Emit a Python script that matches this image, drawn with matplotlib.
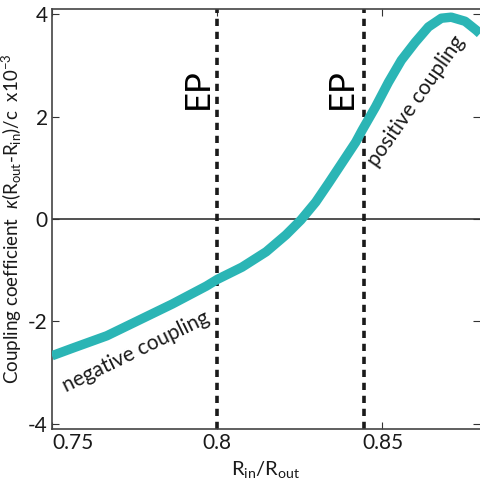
import numpy as np
import matplotlib
matplotlib.use("Agg")
import matplotlib.pyplot as plt

# --- datos ---
ratio = [0.7500, 0.7563, 0.7666, 0.7765, 0.7864, 0.7967, 0.8000, 0.8075,
         0.8148, 0.8208, 0.8253, 0.8298, 0.8337, 0.8377, 0.8419, 0.8439,
         0.8479, 0.8518, 0.8557, 0.8599, 0.8639, 0.8678, 0.8708, 0.8750,
         0.8783, 0.8795]
coupling = [-2.67, -2.52, -2.28, -1.97, -1.66, -1.31, -1.18, -0.94,
            -0.64, -0.31, -0.02, 0.33, 0.70, 1.09, 1.50, 1.74,
            2.19, 2.67, 3.10, 3.45, 3.75, 3.92, 3.94, 3.86,
            3.69, 3.62]
ep_positions = [0.800, 0.8443]
x_ticks = [0.75, 0.80, 0.85]
x_ticklabels = ["0.75", "0.8", "0.85"]
y_ticks = [-4, -2, 0, 2, 4]
y_ticklabels = ["-4", "-2", "0", "2", "4"]

plt.rcParams['font.family'] = ['Lato', 'DejaVu Sans']
plt.rcParams['mathtext.fontset'] = 'custom'
plt.rcParams['mathtext.rm'] = 'Lato'
plt.rcParams['mathtext.it'] = 'Lato:italic'

teal = '#2bb5b5'

fig = plt.figure(figsize=(4.8, 4.79), dpi=100)
ax = fig.add_axes([0.1083, 0.1044, 0.8917, 0.8768])

ax.plot(ratio, coupling, color=teal, lw=6.8, solid_capstyle='butt',
        solid_joinstyle='round', zorder=3)
ax.axhline(0, color='#222222', lw=1.1, zorder=1)
for xp in ep_positions:
    ax.axvline(xp, color='#1a1a1a', lw=2.6, dashes=(2.0, 1.6),
               dash_capstyle='butt', zorder=2)

# --- textos ---
ax.text(0.7941, 2.54, "EP", rotation=90, fontsize=25, ha='center', va='center')
ax.text(0.8378, 2.54, "EP", rotation=90, fontsize=25, ha='center', va='center')
ax.text(0.7755, -2.60, "negative coupling", rotation=26, fontsize=15,
        ha='center', va='center', rotation_mode='anchor', color='#1a1a1a')
ax.text(0.8603, 2.30, "positive coupling", rotation=55, fontsize=15,
        ha='center', va='center', rotation_mode='anchor', color='#1a1a1a')

ax.set_xlim(0.75, 0.8795)
ax.set_ylim(-4.1, 4.1)
ax.set_xticks(x_ticks)
ax.set_xticklabels(x_ticklabels)
ax.get_xticklabels()[0].set_horizontalalignment('left')
ax.set_yticks(y_ticks)
ax.set_yticklabels(y_ticklabels)
ax.tick_params(direction='in', length=5, width=0.8, labelsize=15, pad=3,
               top=True, right=True, colors='#333333', labelcolor='#1a1a1a')

for side in ['left', 'bottom', 'top']:
    ax.spines[side].set_color('#444444')
    ax.spines[side].set_linewidth(1.2)
ax.spines['right'].set_visible(False)

ax.set_xlabel(r"R$_{\rm in}$/R$_{\rm out}$", fontsize=14.5, labelpad=4, color='#1a1a1a')
ax.set_ylabel(r"Coupling coefficient  $\kappa$(R$_{\rm out}$-R$_{\rm in}$)/c  x10$^{-3}$",
              fontsize=13.5, labelpad=3, color='#1a1a1a')

plt.savefig("out.png", dpi=100)
